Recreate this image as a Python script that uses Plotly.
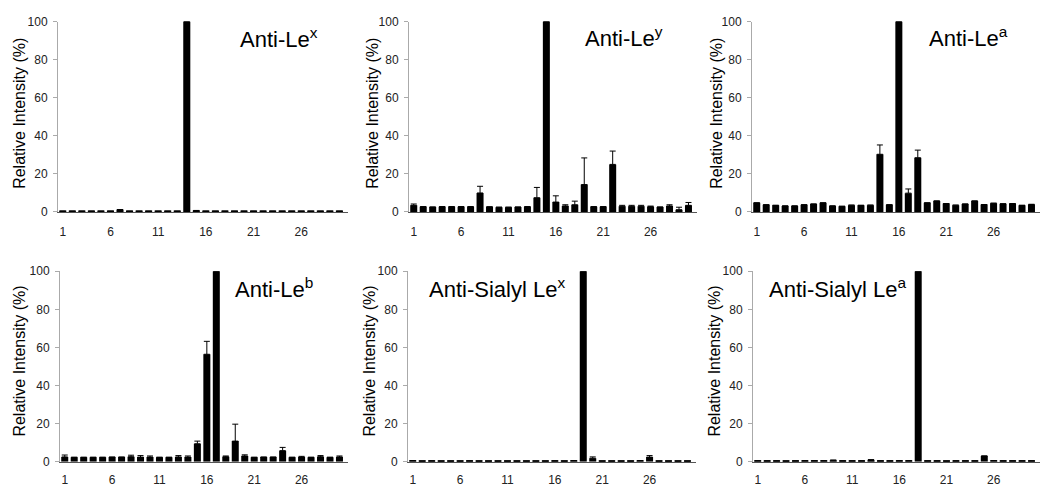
import plotly.graph_objects as go

W, H = 1041, 492

categories = list(range(1, 31))
tick_vals = [1, 6, 11, 16, 21, 26]
y_ticks = [0, 20, 40, 60, 80, 100]

titles = ["Anti-Le<sup>x</sup>", "Anti-Le<sup>y</sup>", "Anti-Le<sup>a</sup>",
          "Anti-Le<sup>b</sup>", "Anti-Sialyl Le<sup>x</sup>", "Anti-Sialyl Le<sup>a</sup>"]

vals_lex = [0.4, 0.4, 0.4, 0.4, 0.4, 0.4, 1.3, 0.4, 0.4, 0.4, 0.4, 0.4, 0.4, 100, 0.8,
            0.4, 0.4, 0.4, 0.4, 0.4, 0.4, 0.4, 0.4, 0.4, 0.4, 0.4, 0.4, 0.4, 0.4, 0.4]
err_lex = [0] * 30

vals_ley = [3.5, 2.8, 2.6, 2.8, 2.8, 2.8, 2.8, 10, 2.7, 2.5, 2.5, 2.6, 2.8, 7.5, 100,
            5.2, 3.2, 3.8, 14.4, 2.8, 2.8, 25, 3.0, 3.0, 3.0, 2.8, 2.6, 3.2, 1.2, 3.5]
err_ley = [0.7, 0, 0, 0, 0, 0, 0, 3.5, 0, 0, 0, 0, 0, 5.4, 0,
           3.3, 0.6, 1.9, 14, 0, 0, 7, 0.5, 0.5, 0.5, 0.3, 0, 0.6, 1.3, 1.5]

vals_lea = [4.8, 3.8, 3.5, 3.2, 3.2, 3.8, 4.2, 4.8, 3.2, 3.0, 3.6, 3.5, 3.6, 30.3, 3.8,
            100, 9.9, 28.5, 4.8, 5.8, 4.4, 3.6, 4.2, 5.8, 3.9, 4.6, 4.3, 4.4, 3.5, 4.0]
err_lea = [0, 0, 0, 0, 0, 0, 0, 0, 0, 0, 0, 0, 0, 4.9, 0,
           0, 2.2, 4.0, 0, 0, 0, 0, 0, 0, 0, 0, 0, 0, 0, 0]

vals_leb = [2.5, 2.3, 2.3, 2.3, 2.3, 2.4, 2.4, 2.6, 2.4, 2.4, 2.3, 2.3, 2.5, 2.4, 9.4,
            56.4, 100, 2.6, 10.8, 3.0, 2.3, 2.4, 2.4, 5.8, 2.3, 2.4, 2.3, 2.6, 2.3, 2.5]
err_leb = [1.0, 0, 0, 0, 0, 0, 0, 0.8, 0.8, 0.6, 0, 0, 0.7, 0.6, 1.4,
           6.8, 0, 0.4, 8.9, 0.6, 0, 0, 0, 1.7, 0, 0.4, 0, 0.6, 0, 0.5]

vals_slex = [0.6, 0.3, 0.4, 0.3, 0.3, 0.3, 0.4, 0.3, 0.3, 0.3, 0.3, 0.3, 0.3, 0.3, 0.3,
             0.4, 0.3, 0.6, 100, 1.8, 0.3, 0.3, 0.3, 0.3, 0.6, 2.4, 0.3, 0.3, 0.3, 0.3]
err_slex = [0, 0, 0, 0, 0, 0, 0, 0, 0, 0, 0, 0, 0, 0, 0,
            0, 0, 0, 0, 0.7, 0, 0, 0, 0, 0, 0.8, 0, 0, 0, 0]

vals_slea = [0.5, 0.4, 0.4, 0.3, 0.4, 0.5, 0.5, 0.5, 0.8, 0.4, 0.4, 0.4, 1.0, 0.4, 0.4,
             0.5, 0.5, 100, 0.4, 0.4, 0.3, 0.4, 0.4, 0.4, 3.0, 0.6, 0.4, 0.4, 0.4, 0.4]
err_slea = [0] * 30

series = [(vals_lex, err_lex), (vals_ley, err_ley), (vals_lea, err_lea),
          (vals_leb, err_leb), (vals_slex, err_slex), (vals_slea, err_slea)]

# layout in pixels
x_px = [(58, 348), (409, 697), (752, 1040), (60, 348), (408, 696), (753, 1040)]
y_px = [(15, 211), (15, 211), (15, 211), (272, 468), (272, 468), (272, 468)]
title_px = [(238, 32), (583, 31), (927, 31), (233, 289), (427, 289), (767, 289)]
ytitle_px = [(20, 110), (373, 110), (717, 110), (20, 365), (370, 365), (715, 365)]
xstandoff = [9, 9, 9, 7, 7, 7]

FONT = "Arial, Liberation Sans, sans-serif"

fig = go.Figure()
annotations = []
for i, ((vals, errs), (x0, x1), (y0, y1)) in enumerate(zip(series, x_px, y_px)):
    n = "" if i == 0 else str(i + 1)
    plus = [e if e > 0 else None for e in errs]
    fig.add_trace(go.Bar(
        x=categories, y=vals, width=0.74,
        marker=dict(color="black", line=dict(width=0)),
        error_y=dict(type="data", symmetric=False, array=plus,
                     arrayminus=[0] * len(vals), color="black",
                     thickness=1, width=3, visible=True),
        xaxis="x" + n, yaxis="y" + n, showlegend=False,
    ))
    fig.layout["xaxis" + n] = dict(
        domain=[x0 / W, x1 / W], range=[0.5, 30.9], anchor="y" + n,
        tickvals=tick_vals, ticktext=[str(v) for v in tick_vals],
        showline=True, linecolor="#555", linewidth=1, ticks="",
        showgrid=False, zeroline=False,
        tickfont=dict(family=FONT, size=12, color="#222"),
        ticklabelstandoff=xstandoff[i],
    )
    fig.layout["yaxis" + n] = dict(
        domain=[1 - y1 / H, 1 - y0 / H], range=[0, 100], anchor="x" + n,
        tickvals=y_ticks, showline=True, linecolor="#aaa", linewidth=1,
        ticks="outside", ticklen=4, tickcolor="#aaa",
        showgrid=False, zeroline=False,
        tickfont=dict(family=FONT, size=12, color="#222"),
        ticklabelstandoff=3,
    )
    tx, ty = title_px[i]
    annotations.append(dict(
        text=titles[i], x=tx / W, y=1 - ty / H, xref="paper", yref="paper",
        xanchor="left", yanchor="middle", showarrow=False,
        font=dict(family=FONT, size=22, color="black"),
    ))
    ax, ay = ytitle_px[i]
    annotations.append(dict(
        text="Relative Intensity (%)", x=ax / W, y=1 - ay / H,
        xref="paper", yref="paper", xanchor="center", yanchor="middle",
        textangle=-90, showarrow=False,
        font=dict(family=FONT, size=16, color="black"),
    ))

fig.update_layout(
    width=W, height=H, margin=dict(l=0, r=0, t=0, b=0),
    paper_bgcolor="white", plot_bgcolor="white",
    annotations=annotations, bargap=0.2,
)

fig.write_html("out.html", config={"displayModeBar": False},
               post_script="document.body.style.margin='0';")
